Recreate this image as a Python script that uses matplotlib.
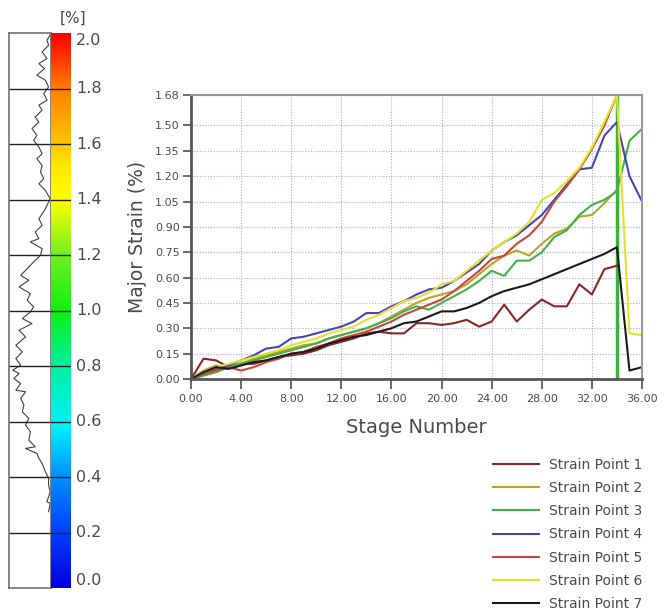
import numpy as np
import matplotlib
matplotlib.use("Agg")
import matplotlib.pyplot as plt
from matplotlib.colors import LinearSegmentedColormap

plt.rcParams['font.family'] = ['DejaVu Sans']

# ---------------- data ----------------
stages = list(range(0, 37))
nan = np.nan
sp1 = [0, 0.12, 0.11, 0.07, 0.09, 0.09, 0.11, 0.13, 0.14, 0.15, 0.17, 0.20, 0.22, 0.24, 0.27, 0.28, 0.27,
       0.27, 0.33, 0.33, 0.32, 0.33, 0.35, 0.31, 0.34, 0.44, 0.34, 0.41, 0.47, 0.43, 0.43, 0.56, 0.50,
       0.65, 0.67, nan, nan]
sp2 = [0, 0.05, 0.08, 0.07, 0.09, 0.12, 0.14, 0.16, 0.18, 0.20, 0.21, 0.24, 0.26, 0.28, 0.30, 0.33, 0.37,
       0.41, 0.45, 0.48, 0.50, 0.52, 0.56, 0.62, 0.68, 0.73, 0.76, 0.73, 0.80, 0.86, 0.89, 0.96, 0.97,
       1.04, 1.12, nan, nan]
sp3 = [0, 0.02, 0.04, 0.07, 0.09, 0.11, 0.13, 0.15, 0.17, 0.19, 0.21, 0.24, 0.26, 0.28, 0.30, 0.33, 0.36,
       0.40, 0.43, 0.41, 0.45, 0.49, 0.53, 0.58, 0.64, 0.61, 0.70, 0.70, 0.75, 0.84, 0.88, 0.97, 1.03,
       1.06, 1.11, 1.41, 1.48]
sp4 = [0, 0.03, 0.06, 0.08, 0.11, 0.14, 0.18, 0.19, 0.24, 0.25, 0.27, 0.29, 0.31, 0.34, 0.39, 0.39, 0.43,
       0.46, 0.50, 0.53, 0.54, 0.58, 0.63, 0.68, 0.76, 0.81, 0.85, 0.91, 0.97, 1.06, 1.15, 1.24, 1.25,
       1.44, 1.52, 1.20, 1.05]
sp5 = [0, 0.03, 0.05, 0.07, 0.05, 0.07, 0.10, 0.12, 0.15, 0.16, 0.19, 0.21, 0.24, 0.26, 0.28, 0.31, 0.34,
       0.38, 0.41, 0.44, 0.47, 0.52, 0.58, 0.64, 0.71, 0.73, 0.80, 0.85, 0.93, 1.05, 1.14, 1.24, 1.36,
       1.50, 1.68, nan, nan]
sp6 = [0, 0.04, 0.07, 0.09, 0.11, 0.13, 0.15, 0.17, 0.20, 0.22, 0.24, 0.27, 0.29, 0.31, 0.35, 0.38, 0.42,
       0.46, 0.48, 0.51, 0.56, 0.58, 0.64, 0.70, 0.76, 0.81, 0.86, 0.93, 1.06, 1.10, 1.17, 1.25, 1.37,
       1.52, 1.68, 0.27, 0.26]
sp7 = [0, 0.04, 0.07, 0.06, 0.08, 0.10, 0.11, 0.13, 0.15, 0.16, 0.18, 0.21, 0.23, 0.25, 0.26, 0.28, 0.30,
       0.33, 0.34, 0.37, 0.40, 0.40, 0.42, 0.45, 0.49, 0.52, 0.54, 0.56, 0.59, 0.62, 0.65, 0.68, 0.71,
       0.74, 0.78, 0.05, 0.07]
series = [sp1, sp2, sp3, sp4, sp5, sp6, sp7]
series_names = ["Strain Point 1", "Strain Point 2", "Strain Point 3", "Strain Point 4",
                "Strain Point 5", "Strain Point 6", "Strain Point 7"]
series_colors = ["#8B2525", "#B8A52A", "#45B048", "#4545B5", "#C8473A", "#E3E32E", "#1A1A1A"]
fracture_stage = 34

x_ticks = [0, 4, 8, 12, 16, 20, 24, 28, 32, 36]
y_ticks = [0.0, 0.15, 0.30, 0.45, 0.60, 0.75, 0.90, 1.05, 1.20, 1.35, 1.50, 1.68]

# strain profile shown beside the colour scale (strain value, relative position in box)
profile_strain = [1.995, 1.975, 1.957, 1.933, 1.909, 1.891, 1.873, 1.849, 1.831, 1.807, 1.783, 1.759,
                  1.741, 1.723, 1.698, 1.680, 1.657, 1.632, 1.614, 1.590, 1.566, 1.548, 1.524, 1.500,
                  1.476, 1.458, 1.434, 1.404, 1.380, 1.362, 1.332, 1.308, 1.284, 1.260, 1.248, 1.224,
                  1.200, 1.176, 1.146, 1.128, 1.110, 1.086, 1.062, 1.038, 1.014, 0.996, 0.972, 0.954,
                  0.930, 0.906, 0.876, 0.852, 0.828, 0.804, 0.786, 0.774, 0.756, 0.738, 0.714, 0.708,
                  0.684, 0.660, 0.636, 0.612, 0.588, 0.564, 0.534, 0.510, 0.504, 0.486, 0.468, 0.450,
                  0.420, 0.396, 0.372, 0.348, 0.312, 0.306, 0.276]
profile_pos = [1.00, 0.92, 0.96, 0.80, 0.92, 0.72, 0.86, 0.67, 0.88, 0.96, 0.84, 0.92,
               0.72, 0.80, 0.63, 0.72, 0.55, 0.67, 0.59, 0.72, 0.80, 0.67, 0.80, 0.76,
               0.84, 0.72, 0.88, 1.00, 0.92, 0.86, 0.72, 0.80, 0.63, 0.72, 0.51, 0.80,
               0.76, 0.59, 0.39, 0.27, 0.47, 0.23, 0.51, 0.43, 0.59, 0.51, 0.31, 0.55,
               0.23, 0.39, 0.15, 0.31, 0.15, 0.27, 0.07, 0.23, 0.10, 0.27, 0.15, 0.39,
               0.27, 0.35, 0.31, 0.47, 0.39, 0.51, 0.47, 0.63, 0.39, 0.67, 0.72, 0.80,
               0.88, 0.96, 0.96, 1.00, 0.92, 1.00, 0.96]

scale_ticks = [0.0, 0.2, 0.4, 0.6, 0.8, 1.0, 1.2, 1.4, 1.6, 1.8, 2.0]
scale_stops = [(0.0, "#0000E0"), (0.1, "#0040FF"), (0.2, "#0090FF"), (0.29, "#00F0FF"),
               (0.4, "#00F0A0"), (0.5, "#10F010"), (0.6, "#70F020"), (0.7, "#FFFF00"),
               (0.76, "#FFE800"), (0.82, "#FFB800"), (0.9, "#FF8000"), (1.0, "#FF0000")]

# ---------------- figure ----------------
W, H = 664, 610
fig = plt.figure(figsize=(W / 100, H / 100), dpi=100)

def fax(x0, y0, x1, y1):
    return fig.add_axes([x0 / W, 1 - y1 / H, (x1 - x0) / W, (y1 - y0) / H])

txt_col = "#4a4a4a"

# profile box
axp = fax(9, 33.3, 51, 588.3)
axp.plot(profile_pos, profile_strain, color="#404040", lw=0.8)
for v in scale_ticks[1:-1]:
    axp.axhline(v, color="#202020", lw=1.0)
axp.set_xlim(-0.02, 1.02)
axp.set_ylim(0, 2.0)
axp.set_xticks([]); axp.set_yticks([])
for s in axp.spines.values():
    s.set_color("#707070"); s.set_linewidth(1.2)

# colour scale
cmap = LinearSegmentedColormap.from_list("strain", scale_stops)
axc = fax(51, 33.3, 71, 588.3)
grad = np.linspace(0, 2.0, 256).reshape(-1, 1)
axc.imshow(grad, aspect="auto", cmap=cmap, origin="lower", extent=[0, 1, 0, 2.0])
for v in scale_ticks[1:-1]:
    axc.axhline(v, color="#202020", lw=1.0)
axc.set_xlim(0, 1); axc.set_ylim(0, 2.0)
axc.set_xticks([]); axc.set_yticks([])
for s in axc.spines.values():
    s.set_visible(False)
for v in scale_ticks:
    va = "center"
    if v == scale_ticks[-1]:
        va = "top"
    elif v == scale_ticks[0]:
        va = "bottom"
    axc.text(1.25, v, f"{v:.1f}", transform=axc.get_yaxis_transform(), ha="left", va=va,
             fontsize=11.5, color=txt_col)
fig.text(73 / W, 1 - 18 / H, "[%]", fontsize=11, color=txt_col, ha="center", va="center")

# main chart
ax = fax(191, 95, 642, 379)
for vals, name, col in zip(series, series_names, series_colors):
    ax.plot(stages, vals, color=col, lw=1.5, label=name)
ax.axvline(fracture_stage, color="#3DB03D", lw=2.5, zorder=1)
ax.set_xlim(0, 36)
ax.set_ylim(0, 1.68)
ax.set_xticks(x_ticks)
ax.set_xticklabels([f"{v:.2f}" for v in x_ticks])
ax.set_yticks(y_ticks)
ax.set_yticklabels([f"{v:.2f}" for v in y_ticks])
ax.tick_params(axis="both", labelsize=8, colors="#505050", labelcolor=txt_col, width=1.2)
ax.tick_params(axis="x", length=7, pad=4)
ax.tick_params(axis="y", length=6, pad=2)
ax.grid(True, color="#A8A8D0", linestyle=(0, (1, 1.5)), lw=0.8)
ax.set_axisbelow(True)
for side in ["left", "bottom"]:
    ax.spines[side].set_color("#555555"); ax.spines[side].set_linewidth(2)
for side in ["top", "right"]:
    ax.spines[side].set_color("#999999"); ax.spines[side].set_linewidth(1.5)
ax.set_ylabel("Major Strain (%)", fontsize=13.5, color=txt_col, labelpad=6)
ax.set_xlabel("Stage Number", fontsize=14, color=txt_col, labelpad=10)

handles, labels = ax.get_legend_handles_labels()
fig.legend(handles, labels, loc="upper left", bbox_to_anchor=(493 / W, 1 - 458 / H),
           frameon=False, fontsize=10, handlelength=3.3, handletextpad=0.7,
           labelspacing=0.66, borderpad=0, borderaxespad=0, labelcolor=txt_col)

fig.savefig("out.png", dpi=100)
